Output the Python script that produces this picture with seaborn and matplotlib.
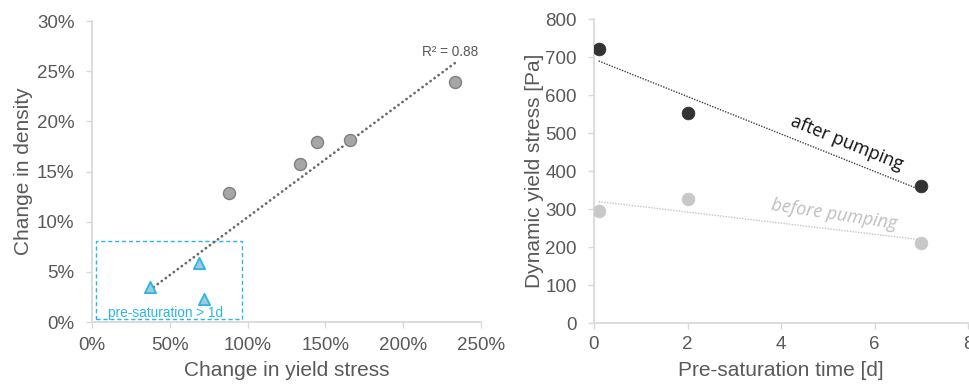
import matplotlib
matplotlib.use("Agg")
import matplotlib.pyplot as plt
from matplotlib.patches import Rectangle
from matplotlib.ticker import FuncFormatter
import numpy as np
import pandas as pd
import seaborn as sns

# --- left panel: change in yield stress vs change in density (percent) ---
yield_change_sat = [88.0, 133.6, 144.8, 165.8, 233.4]
density_change_sat = [12.9, 15.7, 17.9, 18.1, 23.9]
yield_change_presat = [37.1, 68.6, 72.3]
density_change_presat = [3.45, 5.9, 2.26]
r2_label = "R² = 0.88"
box_label = "pre-saturation > 1d"

# --- right panel: dynamic yield stress vs pre-saturation time ---
presat_days = [0.1, 2.0, 7.0]
stress_after = [721, 553, 362]
stress_before = [295, 327, 210]

sns.set_style("white")
plt.rcParams["font.family"] = ["Liberation Sans", "DejaVu Sans"]

GREY_TXT = "#595959"
SPINE = "#d9d9d9"
BLUE = "#2bb5e6"

fig = plt.figure(figsize=(9.69, 3.89), dpi=100)
ax1 = fig.add_axes([0.0949, 0.1722, 0.4015, 0.7738])
ax2 = fig.add_axes([0.613, 0.1689, 0.386, 0.7822])


def style_axes(ax, ypad, xpad):
    for side in ("top", "right"):
        ax.spines[side].set_visible(False)
    for side in ("left", "bottom"):
        ax.spines[side].set_color(SPINE)
        ax.spines[side].set_linewidth(1.3)
    ax.tick_params(axis="both", which="major", direction="out", length=4.5,
                   width=1.0, color=SPINE, labelcolor=GREY_TXT, labelsize=13.5,
                   left=True, bottom=True)
    ax.tick_params(axis="y", pad=ypad)
    ax.tick_params(axis="x", pad=xpad)


# left panel
sat = pd.DataFrame({"x": yield_change_sat, "y": density_change_sat})
presat = pd.DataFrame({"x": yield_change_presat, "y": density_change_presat})
both = pd.concat([sat, presat], ignore_index=True)

sns.regplot(data=both, x="x", y="y", ax=ax1, scatter=False, ci=None, truncate=True,
            line_kws=dict(color="#6a6a6a", lw=2.0, linestyle=(0, (0.05, 1.75)),
                          dash_capstyle="round", zorder=2))
sns.scatterplot(data=sat, x="x", y="y", ax=ax1, s=75, color="#a6a6a6",
                edgecolor="#808080", linewidth=1.0, zorder=3)
sns.scatterplot(data=presat, x="x", y="y", ax=ax1, s=65, marker="^",
                color="#a3cad8", edgecolor=BLUE, linewidth=1.3, zorder=4)

ax1.add_patch(Rectangle((2.4, 0.27), 93.9, 7.8, fill=False, edgecolor=BLUE,
                        linewidth=1.0, linestyle=(0, (3, 2)), zorder=1))
ax1.text(47, 0.85, box_label, color=BLUE, fontsize=9.8, ha="center", va="center",
         zorder=3)
ax1.text(230, 26.9, r2_label, color=GREY_TXT, fontsize=9.8, ha="center", va="center")

ax1.set_xlim(0, 250)
ax1.set_ylim(0, 30)
ax1.set_xticks(np.arange(0, 251, 50))
ax1.set_yticks(np.arange(0, 31, 5))
pct = FuncFormatter(lambda v, p: f"{v:.0f}%")
ax1.xaxis.set_major_formatter(pct)
ax1.yaxis.set_major_formatter(pct)
style_axes(ax1, ypad=8, xpad=6)
ax1.set_xlabel("Change in yield stress", fontsize=15, color=GREY_TXT)
ax1.set_ylabel("Change in density", fontsize=15, color=GREY_TXT)
ax1.xaxis.set_label_coords(0.5, -0.13)
ax1.yaxis.set_label_coords(-0.152, 0.5)

# right panel
after = pd.DataFrame({"t": presat_days, "s": stress_after})
before = pd.DataFrame({"t": presat_days, "s": stress_before})

sns.regplot(data=after, x="t", y="s", ax=ax2, scatter=False, ci=None, truncate=True,
            line_kws=dict(color="#404040", lw=1.0, linestyle=(0, (1, 1)), zorder=2))
sns.regplot(data=before, x="t", y="s", ax=ax2, scatter=False, ci=None, truncate=True,
            line_kws=dict(color="#c4c4c4", lw=1.0, linestyle=(0, (1, 1)), zorder=2))
sns.scatterplot(data=after, x="t", y="s", ax=ax2, s=85, color="#333333",
                edgecolor="#333333", linewidth=0.5, zorder=3)
sns.scatterplot(data=before, x="t", y="s", ax=ax2, s=85, color="#c8c8c8",
                edgecolor="#c8c8c8", linewidth=0.5, zorder=3)

ax2.text(5.4, 474, "after pumping", family=["Open Sans", "DejaVu Sans"], fontsize=13,
         color="#111111", rotation=-22, ha="center", va="center", rotation_mode="anchor")
ax2.text(5.14, 285, "before pumping", family=["Open Sans", "DejaVu Sans"], fontsize=13,
         color="#bfbfbf", rotation=-8.6, ha="center", va="center", rotation_mode="anchor",
         style="italic")

ax2.set_xlim(0, 8)
ax2.set_ylim(0, 800)
ax2.set_xticks(np.arange(0, 9, 2))
ax2.set_yticks(np.arange(0, 801, 100))
style_axes(ax2, ypad=8, xpad=5)
ax2.set_xlabel("Pre-saturation time [d]", fontsize=15, color=GREY_TXT)
ax2.set_ylabel("Dynamic yield stress [Pa]", fontsize=15, color=GREY_TXT)
ax2.xaxis.set_label_coords(0.5, -0.124)
ax2.yaxis.set_label_coords(-0.1345, 0.5)

fig.savefig("out.png", dpi=100)
